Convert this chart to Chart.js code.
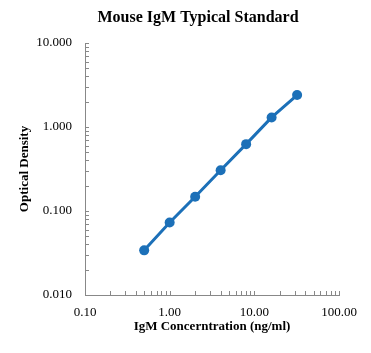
<!DOCTYPE html>
<html>
<head>
<meta charset="utf-8">
<script src="https://cdn.jsdelivr.net/npm/chart.js@4.4.0/dist/chart.umd.min.js"></script>
<style>
  html, body { margin: 0; padding: 0; background: #fff; }
  #chart { display: block; }
</style>
</head>
<body>
<canvas id="chart" width="371" height="353"></canvas>
<script>
// Standard curve data
const concentrations = [0.5, 1, 2, 4, 8, 16, 32];
const odValues = [0.034, 0.073, 0.148, 0.305, 0.625, 1.30, 2.40];
const xTicks = [0.1, 1, 10, 100];
const yTicks = [0.01, 0.1, 1, 10];

const serif = "'Liberation Serif', 'Times New Roman', serif";
const axisGray = '#888888';
const blue = '#1c70b8';

// draws the chart title plus the small inward minor tick marks
const extras = {
    id: 'extras',
    afterDraw(chart) {
        const ctx = chart.ctx;
        const x = chart.scales.x, y = chart.scales.y;
        ctx.save();
        ctx.strokeStyle = axisGray;
        ctx.lineWidth = 1;
        ctx.beginPath();
        for (let d = 0.1; d < 100; d *= 10) {
            for (let m = 1; m <= 10; m++) {
                const px = Math.round(x.getPixelForValue(d * m)) + 0.5;
                ctx.moveTo(px, x.top);
                ctx.lineTo(px, x.top - 4);
            }
        }
        for (let d = 0.01; d < 10; d *= 10) {
            for (let m = 1; m <= 10; m++) {
                const py = Math.round(y.getPixelForValue(d * m)) + 0.5;
                ctx.moveTo(y.right, py);
                ctx.lineTo(y.right + 4, py);
            }
        }
        ctx.stroke();

        ctx.fillStyle = '#000';
        ctx.font = 'bold 16px ' + serif;
        ctx.textAlign = 'center';
        ctx.textBaseline = 'middle';
        ctx.fillText('Mouse IgM Typical Standard', 198, 18);
        ctx.restore();
    }
};

new Chart(document.getElementById('chart').getContext('2d'), {
    type: 'line',
    data: {
        datasets: [{
            data: concentrations.map((c, i) => ({ x: c, y: odValues[i] })),
            borderColor: blue,
            backgroundColor: blue,
            borderWidth: 3,
            pointRadius: 5,
            pointBorderWidth: 0,
            tension: 0
        }]
    },
    options: {
        responsive: false,
        animation: false,
        layout: { padding: { top: 43, right: 32, left: 0, bottom: 0 } },
        plugins: { legend: { display: false }, tooltip: { enabled: false } },
        scales: {
            x: {
                type: 'logarithmic',
                min: 0.1, max: 100,
                afterBuildTicks: s => { s.ticks = xTicks.map(v => ({ value: v })); },
                afterFit: s => { s.height = 58; },
                grid: { display: false, drawTicks: false },
                border: { display: true, color: axisGray, width: 1 },
                ticks: {
                    color: '#000', padding: 10, maxRotation: 0,
                    font: { family: serif, size: 13 },
                    callback: v => Number(v).toFixed(2)
                },
                title: {
                    display: true, text: 'IgM Concerntration (ng/ml)', color: '#000',
                    font: { family: serif, size: 13, weight: 'bold' },
                    padding: { top: 0, bottom: 19 }
                }
            },
            y: {
                type: 'logarithmic',
                min: 0.01, max: 10,
                afterBuildTicks: s => { s.ticks = yTicks.map(v => ({ value: v })); },
                afterFit: s => { s.width = 85; },
                grid: { display: false, drawTicks: false },
                border: { display: true, color: axisGray, width: 1 },
                ticks: {
                    color: '#000', padding: 13,
                    font: { family: serif, size: 13 },
                    callback: v => Number(v).toFixed(3)
                },
                title: {
                    display: true, text: 'Optical Density', color: '#000',
                    font: { family: serif, size: 13, weight: 'bold' },
                    padding: { top: 17, bottom: 0 }
                }
            }
        }
    },
    plugins: [extras]
});
</script>
</body>
</html>
